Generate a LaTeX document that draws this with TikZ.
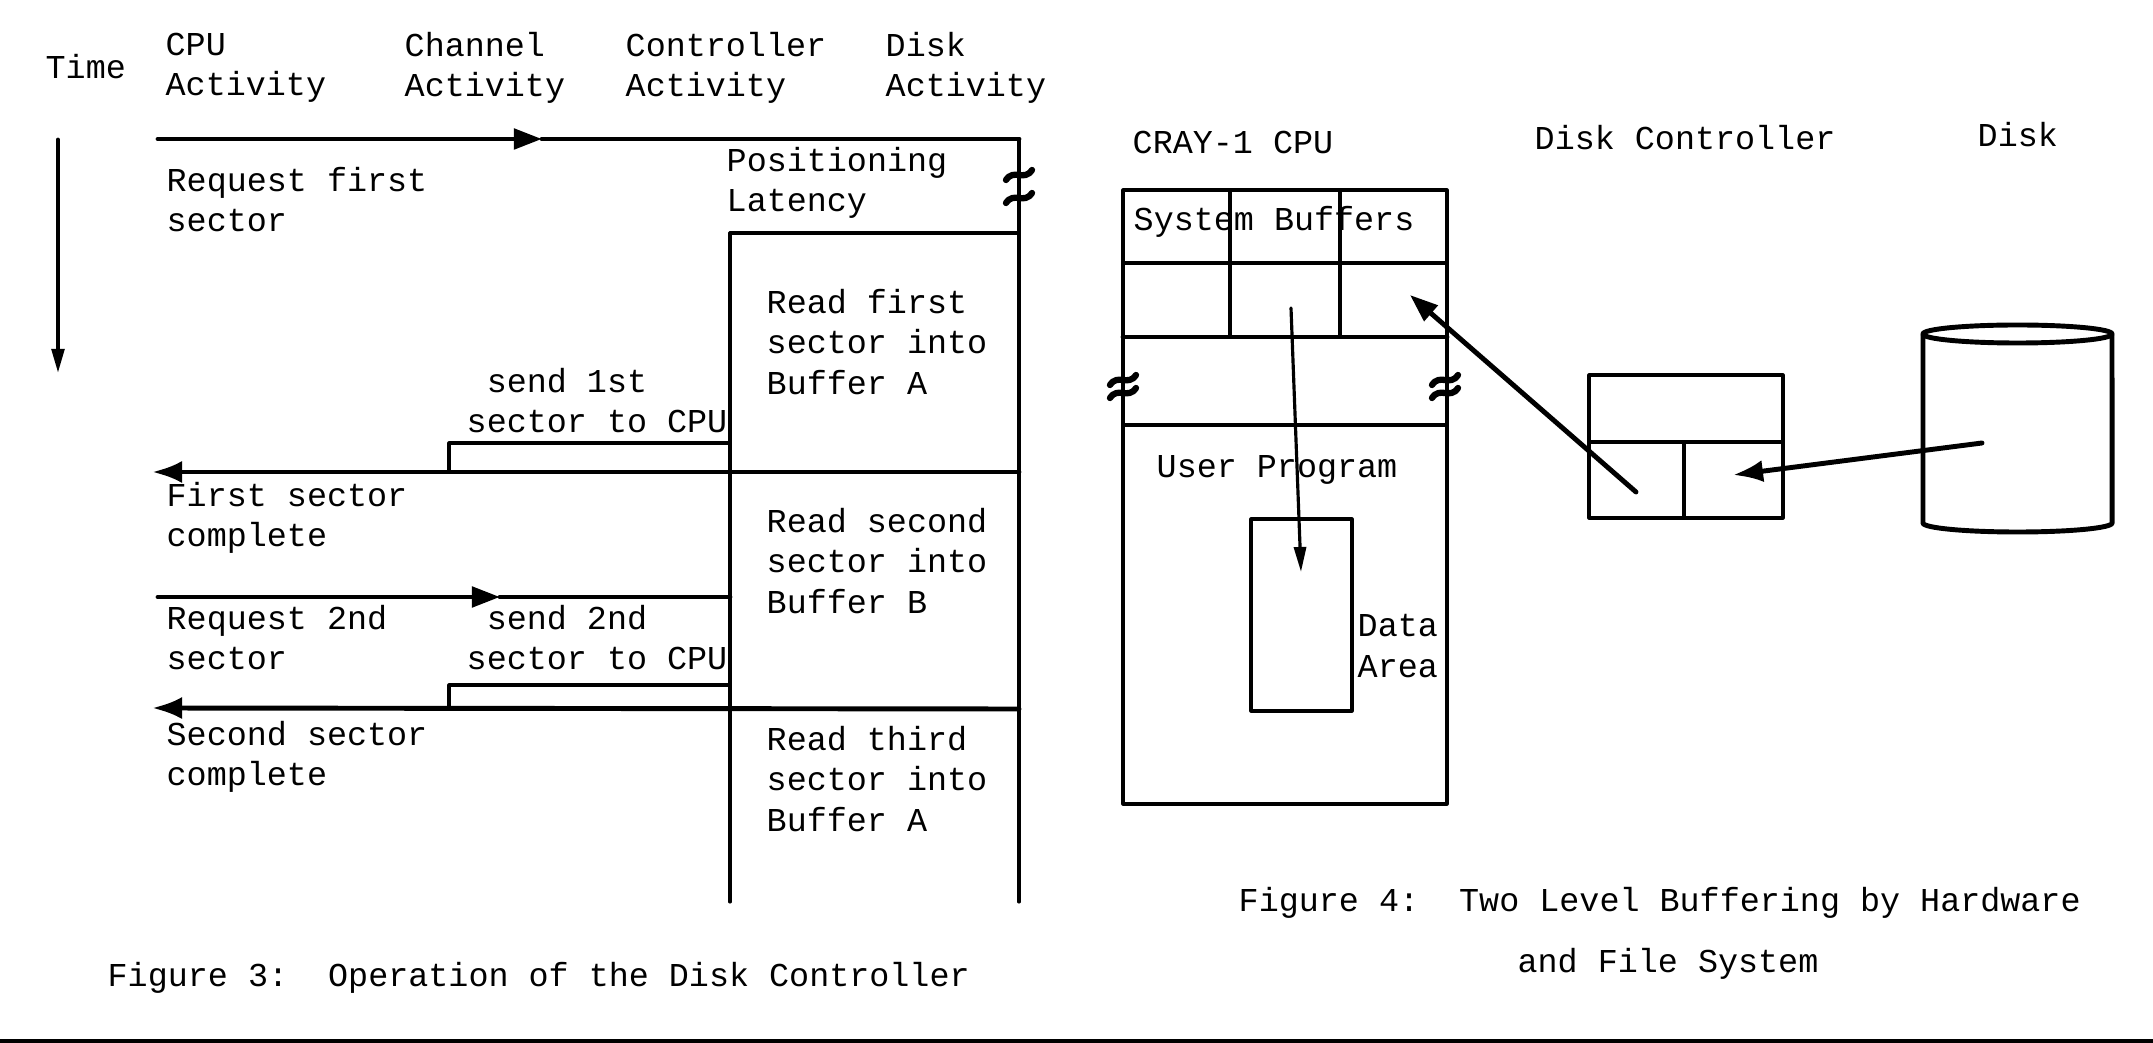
\documentclass[tikz,border=0pt]{standalone}
\usepackage{fontspec}
\setmainfont{Liberation Mono}
\usetikzlibrary{arrows.meta}

% small break mark across a line
\newcommand{\brkmark}[2]{%
  \draw[line width=1.8pt, shift={(#1,#2)}] (-13,5) .. controls (-5,-7) and (5,7) .. (13,-5);}

\begin{document}
\begin{tikzpicture}[
    x=0.01cm, y=-0.01cm,
    line cap=round,
    line join=round,
    every node/.style={font=\fontsize{9.5}{11.4}\selectfont, inner sep=0pt, align=left},
    lbl/.style={anchor=west},
    wire/.style={line width=0.9pt},
    heavy/.style={line width=1.4pt},
    tip/.style={-{Triangle[length=2.8mm,width=2mm]}},
    blob/.style={-{Latex[length=3mm,width=2.2mm]}},
    slim/.style={-{Triangle[length=2.5mm,width=1.2mm]}}
]
\useasboundingbox (0,0) rectangle (2153,1043);

% ---------------- Figure 3 ----------------
% Intestazioni
\node[lbl] (time)   at (45,67)  {Time};
\node[lbl] (cpuhd)  at (165,68) {CPU\\Activity};
\node[lbl] (chanhd) at (404,68) {Channel\\Activity};
\node[lbl] (ctrlhd) at (625,68) {Controller\\Activity};
\node[lbl] (diskhd) at (885,68) {Disk\\Activity};

% Asse del tempo
\draw[heavy, slim] (58,140) -- (58,374);

% Linee verticali
\draw[wire] (1019,139) -- (1019,902);
\draw[wire] (730,233) -- (730,902);
\draw[wire] (730,233) -- (1019,233);
\brkmark{1019}{175}
\brkmark{1019}{198}

% Richiesta del primo settore
\draw[heavy, tip] (158,139) -- (542,139);
\draw[heavy] (542,139) -- (1019,139);
\node[lbl] (req1)  at (166,200) {Request first\\sector};
\node[lbl] (posit) at (726,183) {Positioning\\Latency};
\node[lbl] (read1) at (766,342) {Read first\\sector into\\Buffer A};

% Invio del primo settore
\node[lbl] (send1) at (466,401) {~send 1st\\sector to CPU};
\draw[wire] (730,443) -| (449,472);
\draw[heavy, blob] (1019,472) -- (152,472);
\node[lbl] (first) at (166,518) {First sector\\complete};
\node[lbl] (read2) at (766,561) {Read second\\sector into\\Buffer B};

% Richiesta del secondo settore
\draw[heavy, tip] (158,597) -- (500,597);
\draw[heavy] (500,597) -- (730,597);
\node[lbl] (req2)  at (166,638) {Request 2nd\\sector};
\node[lbl] (send2) at (466,638) {~send 2nd\\sector to CPU};
\draw[wire] (730,685) -| (449,708);
\draw[heavy, blob] (1019,709) -- (152,708);
\node[lbl] (second) at (166,757) {Second sector\\complete};
\node[lbl] (read3)  at (766,779) {Read third\\sector into\\Buffer A};

\node[lbl] (cap3) at (107,978) {Figure 3:~~Operation of the Disk Controller};

% ---------------- Figure 4 ----------------
\node[lbl] (cray) at (1132,142) {CRAY-1 CPU};
\node[lbl] (dctl) at (1534,138) {Disk Controller};
\node[lbl] (disk) at (1977,135) {Disk};

% CPU
\draw[wire] (1123,190) rectangle (1447,804);
\draw[wire] (1123,263) -- (1447,263);
\draw[heavy] (1123,337) -- (1447,337);
\draw[wire] (1230,190) -- (1230,337);
\draw[wire] (1340,190) -- (1340,337);
\draw[wire] (1123,425) -- (1447,425);
\brkmark{1123}{380}
\brkmark{1123}{393}
\brkmark{1445}{380}
\brkmark{1445}{393}
\node[lbl] (sysbuf) at (1133,222) {System Buffers};
\node[lbl] (user)   at (1156,470) {User Program};
\draw[wire] (1251,519) rectangle (1352,711);
\node[lbl] (data)   at (1357,646) {Data\\Area};

% Controllore
\draw[wire] (1589,375) rectangle (1783,518);
\draw[wire] (1589,442) -- (1783,442);
\draw[wire] (1684,442) -- (1684,518);

% Disco
\draw[heavy] (1923,334) -- (1923,523)
    arc[start angle=180, end angle=360, x radius=0.945cm, y radius=0.09cm]
    -- (2112,334);
\draw[heavy] (2017.5,334) ellipse [x radius=0.945cm, y radius=0.09cm];

% Frecce dei dati
\coordinate (dkout) at (1982,443);
\coordinate (dkin)  at (1733,475);
\coordinate (ctout) at (1636,492);
\coordinate (bfin)  at (1410,295);
\coordinate (bfout) at (1291,308);
\coordinate (dain)  at (1301,572);
\draw[heavy, blob] (dkout) -- (dkin);
\draw[heavy, tip] (ctout) -- (bfin);
\draw[wire, slim] (bfout) -- (dain);

\node[lbl] (cap4)  at (1238,903) {Figure 4:~~Two Level Buffering by Hardware};
\node      (cap4b) at (1668,964) {and File System};

% Riga di chiusura
\draw[line width=0.04cm, line cap=butt] (0,1041) -- (2153,1041);

\end{tikzpicture}
\end{document}
